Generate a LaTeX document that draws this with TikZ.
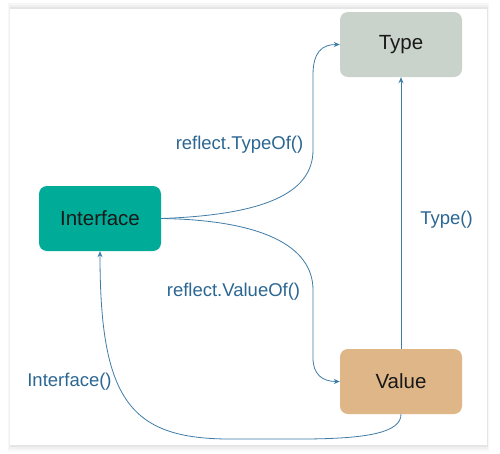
\documentclass[tikz,border=0pt]{standalone}
\usepackage{fontspec}
\setmainfont{Liberation Sans}
\usetikzlibrary{arrows.meta}
\definecolor{tealbox}{HTML}{00AC98}
\definecolor{typebox}{HTML}{CAD2CC}
\definecolor{valbox}{HTML}{DEB687}
\definecolor{lblblue}{HTML}{2C6793}
\definecolor{lineblue}{HTML}{3F7CA6}
\tikzset{
  box/.style={rounded corners=8pt, minimum width=122pt, minimum height=65pt, inner sep=0pt,
    font=\fontsize{20.5pt}{24pt}\selectfont, text=black!90},
  conn/.style={draw=lineblue, line width=0.8pt, -{Stealth[length=6pt,width=5pt]}},
  lbl/.style={text=lblblue, font=\fontsize{18.5pt}{22pt}\selectfont, inner sep=0pt}
}
\begin{document}
\begin{tikzpicture}[x=1pt,y=-1pt]
\useasboundingbox (0,0) rectangle (500,453);
\fill[white] (0,0) rectangle (500,453);
% frame shadow
\fill[black!3] (8,3) rectangle (489,451);
\fill[black!6] (9,5) rectangle (488,449);
\fill[black!10] (9.5,7) rectangle (487.5,447);
\fill[white] (10,9) rectangle (487,445);
% boxes
\node[box, fill=typebox] (type) at (401,44.5) {Type};
\node[box, fill=tealbox] (iface) at (100,218.5) {Interface};
\node[box, fill=valbox] (value) at (401,381.5) {Value};
% labels
\node[lbl] (l1) at (239.5,145) {reflect.TypeOf()};
\node[lbl] (l2) at (233.5,292) {reflect.ValueOf()};
\node[lbl] (l3) at (446.5,220) {Type()};
\node[lbl] (l4) at (69.5,382) {Interface()};
% connectors
\coordinate (a1) at (313,150);
\coordinate (a2) at (313,75);
\draw[conn] (iface.east) .. controls (260,215) and (313,195) .. (a1) -- (a2)
  .. controls (313,52) and (322,44.5) .. (type.west);
\coordinate (b1) at (313,290);
\coordinate (b2) at (313,358);
\draw[conn] (iface.east) .. controls (260,220) and (313,245) .. (b1) -- (b2)
  .. controls (313,374) and (322,381.5) .. (value.west);
\draw[conn] (value.north) -- (type.south);
\coordinate (c1) at (300,439);
\coordinate (c2) at (230,439);
\draw[conn] (value.south) .. controls (401,432) and (370,439) .. (c1) -- (c2)
  .. controls (130,439) and (100,400) .. (iface.south);
\end{tikzpicture}
\end{document}
